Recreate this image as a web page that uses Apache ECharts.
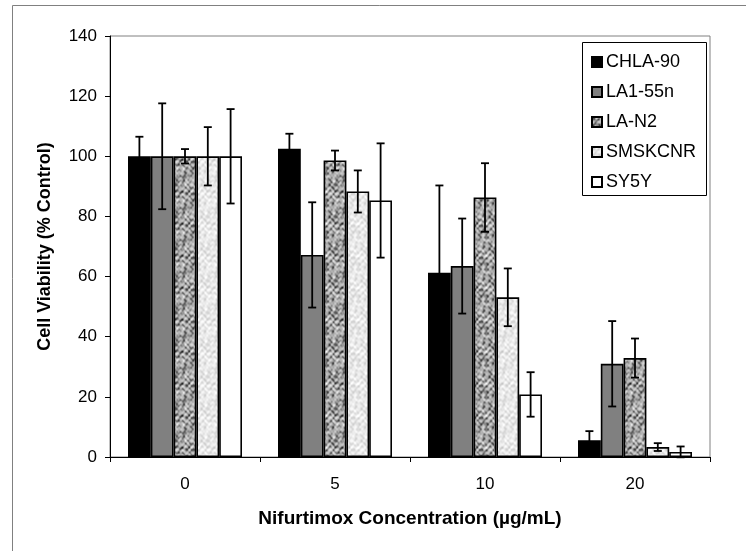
<!DOCTYPE html>
<html>
<head>
<meta charset="utf-8">
<script src="https://cdn.jsdelivr.net/npm/echarts@6/dist/echarts.min.js"></script>
<style>html,body{margin:0;padding:0;background:#fff}#c{width:746px;height:551px}</style>
</head>
<body>
<div id="c"></div>
<script>
var categories = ['0', '5', '10', '20'];
var seriesNames = ['CHLA-90', 'LA1-55n', 'LA-N2', 'SMSKCNR', 'SY5Y'];
var chla90 = [100, 102.5, 61.3, 5.6];
var chla90Err = [6.5, 5, 29, 3];
var la155n = [100, 67.2, 63.5, 31];
var la155nErr = [17.6, 17.5, 15.8, 14.2];
var lan2 = [100, 98.6, 86.3, 32.9];
var lan2Err = [2.4, 3.3, 11.4, 6.5];
var smskcnr = [100, 88.3, 53.1, 3.3];
var smskcnrErr = [9.7, 7, 9.6, 1.3];
var sy5y = [100, 85.3, 20.8, 1.7];
var sy5yErr = [15.7, 19, 7.4, 1.8];
var yTicks = [0, 20, 40, 60, 80, 100, 120, 140];

var values = [chla90, la155n, lan2, smskcnr, sy5y];
var errors = [chla90Err, la155nErr, lan2Err, smskcnrErr, sy5yErr];

// deterministic mottled texture (tileable sum of sines)
function texture(base, light, dark, size) {
  var cv = document.createElement('canvas');
  cv.width = size; cv.height = size;
  var ctx = cv.getContext('2d');
  var img = ctx.createImageData(size, size);
  var a = 2 * Math.PI / size;
  for (var y = 0; y < size; y++) {
    for (var x = 0; x < size; x++) {
      var n = Math.sin(x * a * 2 + 1.3 * Math.sin(y * a * 3)) * Math.sin(y * a * 2 + 1.7 * Math.cos(x * a * 3))
            + 0.6 * Math.sin(x * a * 5 + y * a * 3 + 2 * Math.sin(y * a)) 
            + 0.5 * Math.cos(x * a * 3 - y * a * 6 + 1.5 * Math.cos(x * a * 2))
            + 0.35 * Math.sin(x * a * 9 + 0.5) * Math.cos(y * a * 7 + 1.1);
      var v = n > 0 ? base - n * dark : base - n * light;
      v = Math.max(0, Math.min(255, v));
      var i = (y * size + x) * 4;
      img.data[i] = img.data[i + 1] = img.data[i + 2] = v;
      img.data[i + 3] = 255;
    }
  }
  ctx.putImageData(img, 0, 0);
  return cv;
}
var texN2 = texture(165, 35, 55, 32);
var texSK = texture(232, 12, 14, 32);

var fills = [
  '#000000',
  '#808080',
  { image: texN2, repeat: 'repeat' },
  { image: texSK, repeat: 'repeat' },
  '#ffffff'
];

var FONT = "'Liberation Sans', Arial, sans-serif";
var GAP = 0.24;

var series = [];
seriesNames.forEach(function (name, s) {
  series.push({
    name: name,
    type: 'bar',
    data: values[s],
    barGap: '0%',
    barCategoryGap: (GAP * 100) + '%',
    itemStyle: { color: fills[s], borderColor: '#000', borderWidth: 1.6 },
    emphasis: { disabled: true },
    z: 2
  });
});

var errData = [];
for (var s = 0; s < 5; s++) {
  for (var c = 0; c < categories.length; c++) {
    errData.push([c, s, values[s][c] - errors[s][c], values[s][c] + errors[s][c]]);
  }
}
series.push({
  type: 'custom',
  name: 'err',
  data: errData,
  encode: { x: 0, y: [2, 3] },
  z: 10,
  silent: true,
  renderItem: function (params, api) {
    var c = api.value(0), s = api.value(1);
    var lo = api.coord([c, api.value(2)]);
    var hi = api.coord([c, api.value(3)]);
    var catW = api.size([1, 0])[0];
    var bw = catW * (1 - GAP) / 5;
    var x = lo[0] + (s - 2) * bw;
    var cap = 4;
    var st = { stroke: '#000', lineWidth: 1.8 };
    return {
      type: 'group',
      children: [
        { type: 'line', shape: { x1: x, y1: lo[1], x2: x, y2: hi[1] }, style: st },
        { type: 'line', shape: { x1: x - cap, y1: hi[1], x2: x + cap, y2: hi[1] }, style: st },
        { type: 'line', shape: { x1: x - cap, y1: lo[1], x2: x + cap, y2: lo[1] }, style: st }
      ]
    };
  }
});

var chart = echarts.init(document.getElementById('c'), null, { renderer: 'canvas' });
chart.setOption({
  animation: false,
  backgroundColor: '#fff',
  textStyle: { fontFamily: FONT },
  grid: {
    left: 110, right: 36, top: 36, bottom: 94,
    show: true, borderColor: '#808080', borderWidth: 1, backgroundColor: 'transparent'
  },
  graphic: [
    { type: 'rect', shape: { x: 12.5, y: 5.5, width: 800, height: 600 },
      style: { fill: 'none', stroke: '#808080', lineWidth: 1 }, z: -1, silent: true },
    { type: 'rect', shape: { x: 582.5, y: 42.5, width: 124, height: 153 },
      style: { fill: '#fff', stroke: '#000', lineWidth: 1 }, z: 5, silent: true }
  ],
  legend: {
    orient: 'vertical',
    left: 586, top: 48,
    itemWidth: 10, itemHeight: 10,
    itemGap: 12,
    icon: 'rect',
    selectedMode: false,
    data: seriesNames,
    textStyle: { fontFamily: FONT, fontSize: 18, color: '#000', padding: [0, 0, 0, -1] },
    z: 20
  },
  xAxis: {
    type: 'category',
    data: categories,
    name: 'Nifurtimox Concentration (\u00b5g/mL)',
    nameLocation: 'middle',
    nameGap: 52,
    nameTextStyle: { fontFamily: FONT, fontSize: 19, fontWeight: 'bold', color: '#000' },
    axisLine: { lineStyle: { color: '#000', width: 1 } },
    axisTick: { show: true, alignWithLabel: false, length: 5, lineStyle: { color: '#000' } },
    axisLabel: { fontFamily: FONT, fontSize: 17, color: '#000', margin: 19 },
    splitLine: { show: false }
  },
  yAxis: {
    type: 'value',
    min: yTicks[0], max: yTicks[yTicks.length - 1], interval: 20,
    name: 'Cell Viability (% Control)',
    nameLocation: 'middle',
    nameGap: 56,
    nameRotate: 90,
    nameTextStyle: { fontFamily: FONT, fontSize: 18, fontWeight: 'bold', color: '#000' },
    axisLine: { show: true, lineStyle: { color: '#000', width: 1 } },
    axisTick: { show: true, length: 5, lineStyle: { color: '#000' } },
    axisLabel: { fontFamily: FONT, fontSize: 17, color: '#000', margin: 13 },
    splitLine: { show: false }
  },
  series: series
});
</script>
</body>
</html>
